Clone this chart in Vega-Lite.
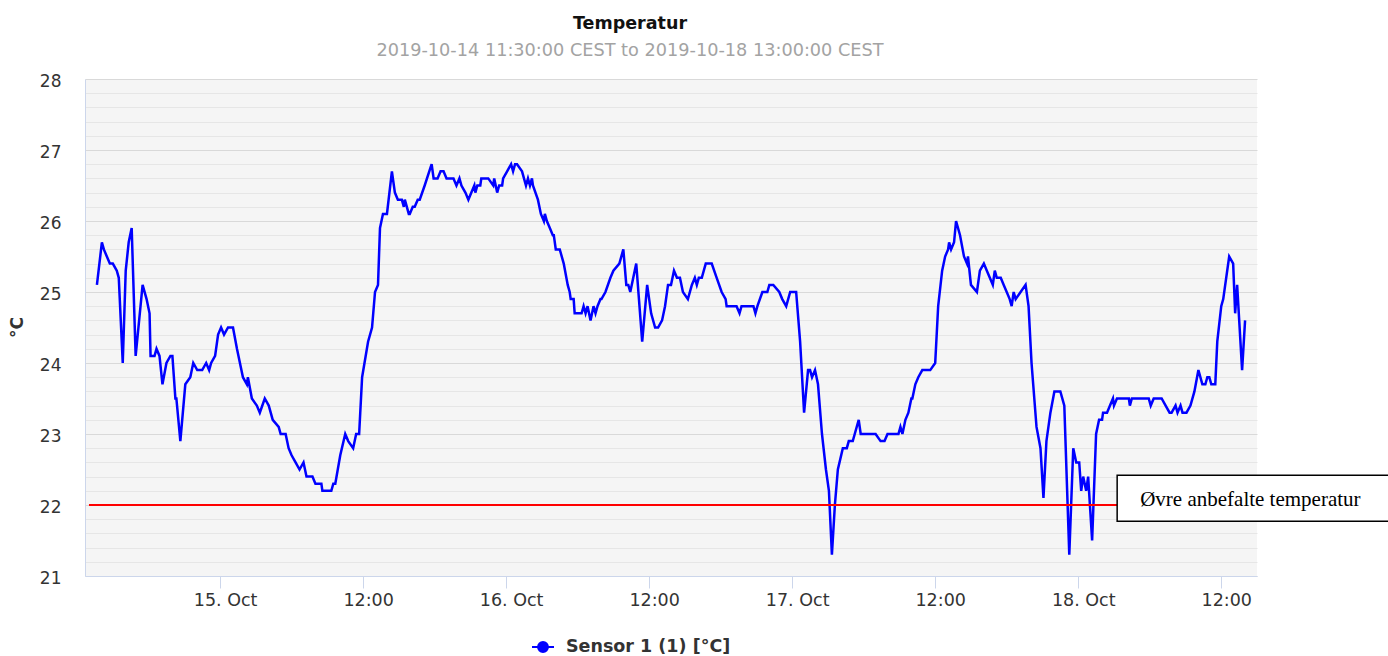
{
  "$schema": "https://vega.github.io/schema/vega-lite/v6.json",
  "autosize": "none",
  "width": 1172,
  "height": 497,
  "padding": {"left": 85, "top": 79, "right": 131, "bottom": 80},
  "background": "white",
  "config": {"view": {"fill": "#f5f5f5", "stroke": null}},
  "title": {
    "text": "Temperatur",
    "subtitle": "2019-10-14 11:30:00 CEST to 2019-10-18 13:00:00 CEST",
    "anchor": "middle",
    "dx": -41,
    "offset": 12,
    "font": "DejaVu Sans",
    "fontSize": 17.5,
    "fontWeight": "bold",
    "color": "#111111",
    "subtitleFont": "DejaVu Sans",
    "subtitleFontSize": 17.7,
    "subtitleColor": "#a3a3a3",
    "subtitlePadding": 10
  },
  "datasets": {
    "temp": [
      {"t":"2019-10-14T13:40","v":25.1},{"t":"2019-10-14T14:05","v":25.7},{"t":"2019-10-14T14:15","v":25.6},{"t":"2019-10-14T14:30","v":25.5},
      {"t":"2019-10-14T14:45","v":25.4},{"t":"2019-10-14T15:00","v":25.4},{"t":"2019-10-14T15:20","v":25.3},{"t":"2019-10-14T15:30","v":25.2},
      {"t":"2019-10-14T15:50","v":24.0},{"t":"2019-10-14T16:05","v":25.3},{"t":"2019-10-14T16:20","v":25.7},{"t":"2019-10-14T16:35","v":25.9},
      {"t":"2019-10-14T16:55","v":24.1},{"t":"2019-10-14T17:30","v":25.1},{"t":"2019-10-14T17:50","v":24.9},{"t":"2019-10-14T18:05","v":24.7},
      {"t":"2019-10-14T18:10","v":24.1},{"t":"2019-10-14T18:30","v":24.1},{"t":"2019-10-14T18:40","v":24.2},{"t":"2019-10-14T18:55","v":24.1},
      {"t":"2019-10-14T19:10","v":23.7},{"t":"2019-10-14T19:30","v":24.0},{"t":"2019-10-14T19:50","v":24.1},{"t":"2019-10-14T20:00","v":24.1},
      {"t":"2019-10-14T20:15","v":23.5},{"t":"2019-10-14T20:20","v":23.5},{"t":"2019-10-14T20:40","v":22.9},{"t":"2019-10-14T21:05","v":23.7},
      {"t":"2019-10-14T21:30","v":23.8},{"t":"2019-10-14T21:45","v":24.0},{"t":"2019-10-14T22:05","v":23.9},{"t":"2019-10-14T22:30","v":23.9},
      {"t":"2019-10-14T22:50","v":24.0},{"t":"2019-10-14T23:05","v":23.9},{"t":"2019-10-14T23:15","v":24.0},{"t":"2019-10-14T23:35","v":24.1},
      {"t":"2019-10-14T23:50","v":24.4},
      {"t":"2019-10-15T00:05","v":24.5},{"t":"2019-10-15T00:20","v":24.4},{"t":"2019-10-15T00:40","v":24.5},{"t":"2019-10-15T01:05","v":24.5},
      {"t":"2019-10-15T01:25","v":24.2},{"t":"2019-10-15T01:55","v":23.8},{"t":"2019-10-15T02:15","v":23.7},{"t":"2019-10-15T02:20","v":23.8},
      {"t":"2019-10-15T02:40","v":23.5},{"t":"2019-10-15T03:05","v":23.4},{"t":"2019-10-15T03:20","v":23.3},{"t":"2019-10-15T03:45","v":23.5},
      {"t":"2019-10-15T04:05","v":23.4},{"t":"2019-10-15T04:25","v":23.2},{"t":"2019-10-15T04:55","v":23.1},{"t":"2019-10-15T05:05","v":23.0},
      {"t":"2019-10-15T05:30","v":23.0},{"t":"2019-10-15T05:45","v":22.8},{"t":"2019-10-15T06:00","v":22.7},{"t":"2019-10-15T06:20","v":22.6},
      {"t":"2019-10-15T06:40","v":22.5},{"t":"2019-10-15T07:00","v":22.6},{"t":"2019-10-15T07:15","v":22.4},{"t":"2019-10-15T07:45","v":22.4},
      {"t":"2019-10-15T08:00","v":22.3},{"t":"2019-10-15T08:30","v":22.3},{"t":"2019-10-15T08:35","v":22.2},{"t":"2019-10-15T09:20","v":22.2},
      {"t":"2019-10-15T09:30","v":22.3},{"t":"2019-10-15T09:40","v":22.3},{"t":"2019-10-15T10:05","v":22.7},{"t":"2019-10-15T10:30","v":23.0},
      {"t":"2019-10-15T10:45","v":22.9},{"t":"2019-10-15T11:10","v":22.8},{"t":"2019-10-15T11:25","v":23.0},{"t":"2019-10-15T11:40","v":23.0},
      {"t":"2019-10-15T11:55","v":23.8},{"t":"2019-10-15T12:25","v":24.3},{"t":"2019-10-15T12:45","v":24.5},{"t":"2019-10-15T13:00","v":25.0},
      {"t":"2019-10-15T13:15","v":25.1},{"t":"2019-10-15T13:25","v":25.9},{"t":"2019-10-15T13:40","v":26.1},{"t":"2019-10-15T14:00","v":26.1},
      {"t":"2019-10-15T14:25","v":26.7},{"t":"2019-10-15T14:40","v":26.4},{"t":"2019-10-15T14:55","v":26.3},{"t":"2019-10-15T15:15","v":26.3},
      {"t":"2019-10-15T15:25","v":26.2},{"t":"2019-10-15T15:30","v":26.3},{"t":"2019-10-15T15:50","v":26.1},{"t":"2019-10-15T15:55","v":26.1},
      {"t":"2019-10-15T16:10","v":26.2},{"t":"2019-10-15T16:20","v":26.2},{"t":"2019-10-15T16:35","v":26.3},{"t":"2019-10-15T16:45","v":26.3},
      {"t":"2019-10-15T17:10","v":26.5},{"t":"2019-10-15T17:45","v":26.8},{"t":"2019-10-15T17:55","v":26.6},{"t":"2019-10-15T18:15","v":26.6},
      {"t":"2019-10-15T18:30","v":26.7},{"t":"2019-10-15T18:45","v":26.7},{"t":"2019-10-15T19:00","v":26.6},{"t":"2019-10-15T19:20","v":26.6},
      {"t":"2019-10-15T19:35","v":26.6},{"t":"2019-10-15T19:50","v":26.5},{"t":"2019-10-15T20:05","v":26.6},{"t":"2019-10-15T20:15","v":26.5},
      {"t":"2019-10-15T20:35","v":26.4},{"t":"2019-10-15T20:50","v":26.3},{"t":"2019-10-15T21:05","v":26.4},{"t":"2019-10-15T21:20","v":26.5},
      {"t":"2019-10-15T21:25","v":26.4},{"t":"2019-10-15T21:35","v":26.5},{"t":"2019-10-15T21:50","v":26.5},{"t":"2019-10-15T21:55","v":26.6},
      {"t":"2019-10-15T22:30","v":26.6},{"t":"2019-10-15T22:55","v":26.5},{"t":"2019-10-15T23:00","v":26.6},{"t":"2019-10-15T23:15","v":26.4},
      {"t":"2019-10-15T23:25","v":26.5},{"t":"2019-10-15T23:40","v":26.5},{"t":"2019-10-15T23:45","v":26.6},
      {"t":"2019-10-16T00:05","v":26.7},{"t":"2019-10-16T00:25","v":26.8},{"t":"2019-10-16T00:35","v":26.7},{"t":"2019-10-16T00:45","v":26.8},
      {"t":"2019-10-16T00:55","v":26.8},{"t":"2019-10-16T01:20","v":26.7},{"t":"2019-10-16T01:40","v":26.5},{"t":"2019-10-16T01:50","v":26.6},
      {"t":"2019-10-16T02:00","v":26.5},{"t":"2019-10-16T02:10","v":26.6},{"t":"2019-10-16T02:15","v":26.5},{"t":"2019-10-16T02:40","v":26.3},
      {"t":"2019-10-16T02:55","v":26.1},{"t":"2019-10-16T03:10","v":26.0},{"t":"2019-10-16T03:15","v":26.1},{"t":"2019-10-16T03:25","v":26.0},
      {"t":"2019-10-16T03:40","v":25.9},{"t":"2019-10-16T03:55","v":25.8},{"t":"2019-10-16T04:00","v":25.8},{"t":"2019-10-16T04:10","v":25.6},
      {"t":"2019-10-16T04:30","v":25.6},{"t":"2019-10-16T04:50","v":25.4},{"t":"2019-10-16T05:10","v":25.1},{"t":"2019-10-16T05:20","v":25.0},
      {"t":"2019-10-16T05:25","v":24.9},{"t":"2019-10-16T05:40","v":24.9},{"t":"2019-10-16T05:45","v":24.7},{"t":"2019-10-16T06:20","v":24.7},
      {"t":"2019-10-16T06:30","v":24.8},{"t":"2019-10-16T06:40","v":24.7},{"t":"2019-10-16T06:50","v":24.8},{"t":"2019-10-16T07:05","v":24.6},
      {"t":"2019-10-16T07:20","v":24.8},{"t":"2019-10-16T07:30","v":24.7},{"t":"2019-10-16T07:40","v":24.8},{"t":"2019-10-16T07:55","v":24.9},
      {"t":"2019-10-16T08:00","v":24.9},{"t":"2019-10-16T08:20","v":25.0},{"t":"2019-10-16T08:45","v":25.2},{"t":"2019-10-16T09:00","v":25.3},
      {"t":"2019-10-16T09:30","v":25.4},{"t":"2019-10-16T09:50","v":25.6},{"t":"2019-10-16T10:05","v":25.1},{"t":"2019-10-16T10:15","v":25.1},
      {"t":"2019-10-16T10:25","v":25.0},{"t":"2019-10-16T10:40","v":25.2},{"t":"2019-10-16T10:55","v":25.4},{"t":"2019-10-16T11:25","v":24.3},
      {"t":"2019-10-16T11:50","v":25.1},{"t":"2019-10-16T12:10","v":24.7},{"t":"2019-10-16T12:30","v":24.5},{"t":"2019-10-16T12:45","v":24.5},
      {"t":"2019-10-16T13:05","v":24.6},{"t":"2019-10-16T13:20","v":24.8},{"t":"2019-10-16T13:35","v":25.1},{"t":"2019-10-16T13:50","v":25.1},
      {"t":"2019-10-16T14:05","v":25.3},{"t":"2019-10-16T14:20","v":25.2},{"t":"2019-10-16T14:35","v":25.2},{"t":"2019-10-16T14:50","v":25.0},
      {"t":"2019-10-16T15:15","v":24.9},{"t":"2019-10-16T15:35","v":25.1},{"t":"2019-10-16T15:50","v":25.2},{"t":"2019-10-16T16:00","v":25.1},
      {"t":"2019-10-16T16:10","v":25.2},{"t":"2019-10-16T16:25","v":25.2},{"t":"2019-10-16T16:45","v":25.4},{"t":"2019-10-16T17:15","v":25.4},
      {"t":"2019-10-16T17:40","v":25.2},{"t":"2019-10-16T18:05","v":25.0},{"t":"2019-10-16T18:25","v":24.9},{"t":"2019-10-16T18:30","v":24.8},
      {"t":"2019-10-16T19:20","v":24.8},{"t":"2019-10-16T19:35","v":24.7},{"t":"2019-10-16T19:45","v":24.8},{"t":"2019-10-16T20:45","v":24.8},
      {"t":"2019-10-16T20:55","v":24.7},{"t":"2019-10-16T21:05","v":24.8},{"t":"2019-10-16T21:30","v":25.0},{"t":"2019-10-16T21:55","v":25.0},
      {"t":"2019-10-16T22:05","v":25.1},{"t":"2019-10-16T22:25","v":25.1},{"t":"2019-10-16T22:55","v":25.0},{"t":"2019-10-16T23:10","v":24.9},
      {"t":"2019-10-16T23:30","v":24.8},{"t":"2019-10-16T23:50","v":25.0},
      {"t":"2019-10-17T00:20","v":25.0},{"t":"2019-10-17T00:40","v":24.3},{"t":"2019-10-17T01:00","v":23.3},{"t":"2019-10-17T01:20","v":23.9},
      {"t":"2019-10-17T01:30","v":23.9},{"t":"2019-10-17T01:40","v":23.8},{"t":"2019-10-17T01:55","v":23.9},{"t":"2019-10-17T02:10","v":23.7},
      {"t":"2019-10-17T02:30","v":23.0},{"t":"2019-10-17T02:50","v":22.5},{"t":"2019-10-17T03:05","v":22.2},{"t":"2019-10-17T03:20","v":21.3},
      {"t":"2019-10-17T03:35","v":22.0},{"t":"2019-10-17T03:50","v":22.5},{"t":"2019-10-17T04:15","v":22.8},{"t":"2019-10-17T04:35","v":22.8},
      {"t":"2019-10-17T04:45","v":22.9},{"t":"2019-10-17T05:05","v":22.9},{"t":"2019-10-17T05:15","v":23.0},{"t":"2019-10-17T05:35","v":23.2},
      {"t":"2019-10-17T05:45","v":23.0},{"t":"2019-10-17T07:00","v":23.0},{"t":"2019-10-17T07:25","v":22.9},{"t":"2019-10-17T07:45","v":22.9},
      {"t":"2019-10-17T08:00","v":23.0},{"t":"2019-10-17T08:55","v":23.0},{"t":"2019-10-17T09:05","v":23.1},{"t":"2019-10-17T09:15","v":23.0},
      {"t":"2019-10-17T09:30","v":23.2},{"t":"2019-10-17T09:45","v":23.3},{"t":"2019-10-17T10:00","v":23.5},{"t":"2019-10-17T10:05","v":23.5},
      {"t":"2019-10-17T10:20","v":23.7},{"t":"2019-10-17T10:35","v":23.8},{"t":"2019-10-17T10:55","v":23.9},{"t":"2019-10-17T11:35","v":23.9},
      {"t":"2019-10-17T12:00","v":24.0},{"t":"2019-10-17T12:15","v":24.8},{"t":"2019-10-17T12:35","v":25.3},{"t":"2019-10-17T12:50","v":25.5},
      {"t":"2019-10-17T13:05","v":25.6},{"t":"2019-10-17T13:10","v":25.7},{"t":"2019-10-17T13:20","v":25.6},{"t":"2019-10-17T13:35","v":25.7},
      {"t":"2019-10-17T13:45","v":26.0},{"t":"2019-10-17T14:05","v":25.8},{"t":"2019-10-17T14:25","v":25.5},{"t":"2019-10-17T14:40","v":25.4},
      {"t":"2019-10-17T14:45","v":25.5},{"t":"2019-10-17T15:00","v":25.1},{"t":"2019-10-17T15:30","v":25.0},{"t":"2019-10-17T15:45","v":25.3},
      {"t":"2019-10-17T16:05","v":25.4},{"t":"2019-10-17T16:20","v":25.3},{"t":"2019-10-17T16:35","v":25.2},{"t":"2019-10-17T16:50","v":25.1},
      {"t":"2019-10-17T17:00","v":25.3},{"t":"2019-10-17T17:10","v":25.2},{"t":"2019-10-17T17:30","v":25.2},{"t":"2019-10-17T17:45","v":25.1},
      {"t":"2019-10-17T18:00","v":25.0},{"t":"2019-10-17T18:15","v":24.9},{"t":"2019-10-17T18:25","v":24.8},{"t":"2019-10-17T18:35","v":25.0},
      {"t":"2019-10-17T18:45","v":24.9},{"t":"2019-10-17T19:10","v":25.0},{"t":"2019-10-17T19:35","v":25.1},{"t":"2019-10-17T19:50","v":24.8},
      {"t":"2019-10-17T20:05","v":24.0},{"t":"2019-10-17T20:30","v":23.1},{"t":"2019-10-17T20:50","v":22.8},{"t":"2019-10-17T21:05","v":22.1},
      {"t":"2019-10-17T21:20","v":22.9},{"t":"2019-10-17T21:40","v":23.3},{"t":"2019-10-17T22:00","v":23.6},{"t":"2019-10-17T22:30","v":23.6},
      {"t":"2019-10-17T22:50","v":23.4},{"t":"2019-10-17T23:15","v":21.3},{"t":"2019-10-17T23:35","v":22.8},{"t":"2019-10-17T23:50","v":22.6},
      {"t":"2019-10-18T00:05","v":22.6},{"t":"2019-10-18T00:15","v":22.2},{"t":"2019-10-18T00:25","v":22.4},{"t":"2019-10-18T00:40","v":22.2},
      {"t":"2019-10-18T00:50","v":22.4},{"t":"2019-10-18T01:10","v":21.5},{"t":"2019-10-18T01:30","v":23.0},{"t":"2019-10-18T01:45","v":23.2},
      {"t":"2019-10-18T02:00","v":23.2},{"t":"2019-10-18T02:05","v":23.3},{"t":"2019-10-18T02:25","v":23.3},{"t":"2019-10-18T02:40","v":23.4},
      {"t":"2019-10-18T02:55","v":23.5},{"t":"2019-10-18T03:00","v":23.4},{"t":"2019-10-18T03:15","v":23.5},{"t":"2019-10-18T04:15","v":23.5},
      {"t":"2019-10-18T04:20","v":23.4},{"t":"2019-10-18T04:30","v":23.5},{"t":"2019-10-18T05:55","v":23.5},{"t":"2019-10-18T06:05","v":23.4},
      {"t":"2019-10-18T06:20","v":23.5},{"t":"2019-10-18T07:00","v":23.5},{"t":"2019-10-18T07:20","v":23.4},{"t":"2019-10-18T07:40","v":23.3},
      {"t":"2019-10-18T07:50","v":23.3},{"t":"2019-10-18T08:10","v":23.4},{"t":"2019-10-18T08:20","v":23.3},{"t":"2019-10-18T08:35","v":23.4},
      {"t":"2019-10-18T08:45","v":23.3},{"t":"2019-10-18T09:05","v":23.3},{"t":"2019-10-18T09:25","v":23.4},{"t":"2019-10-18T09:45","v":23.6},
      {"t":"2019-10-18T10:05","v":23.9},{"t":"2019-10-18T10:25","v":23.7},{"t":"2019-10-18T10:40","v":23.7},{"t":"2019-10-18T10:50","v":23.8},
      {"t":"2019-10-18T11:00","v":23.8},{"t":"2019-10-18T11:10","v":23.7},{"t":"2019-10-18T11:30","v":23.7},{"t":"2019-10-18T11:40","v":24.3},
      {"t":"2019-10-18T12:00","v":24.8},{"t":"2019-10-18T12:10","v":24.9},{"t":"2019-10-18T12:40","v":25.5},{"t":"2019-10-18T13:00","v":25.4},
      {"t":"2019-10-18T13:10","v":24.7},{"t":"2019-10-18T13:20","v":25.1},{"t":"2019-10-18T13:45","v":23.9},{"t":"2019-10-18T14:00","v":24.6}
    ],
    "limit": [{"t0":"2019-10-14T13:00","t1":"2019-10-18T03:16","v":22}],
    "box": [{"t0":"2019-10-18T03:16","t1":"2019-10-19T02:10","lo":21.77,"hi":22.42}],
    "label": [{"t":"2019-10-18T05:12","v":22.07,"text":"Øvre anbefalte temperatur"}]
  },
  "resolve": {"axis": {"y": "independent"}},
  "layer": [
    {
      "data": {"name": "temp"},
      "mark": {"type": "line", "color": "#0000ff", "strokeWidth": 2.5, "interpolate": "linear"},
      "encoding": {
        "x": {
          "field": "t", "type": "temporal", "title": null,
          "scale": {"domain": [{"year":2019,"month":10,"date":14,"hours":12,"minutes":40},{"year":2019,"month":10,"date":18,"hours":15,"minutes":0}]},
          "axis": {
            "title": null,
            "values": [
              {"year":2019,"month":10,"date":15,"hours":0},{"year":2019,"month":10,"date":15,"hours":12},
              {"year":2019,"month":10,"date":16,"hours":0},{"year":2019,"month":10,"date":16,"hours":12},
              {"year":2019,"month":10,"date":17,"hours":0},{"year":2019,"month":10,"date":17,"hours":12},
              {"year":2019,"month":10,"date":18,"hours":0},{"year":2019,"month":10,"date":18,"hours":12}
            ],
            "format": "%d. %b|%H:%M",
            "labelExpr": "split(datum.label, '|')[1] == '00:00' ? split(datum.label, '|')[0] : split(datum.label, '|')[1]",
            "grid": false,
            "domainColor": "#ccd6eb",
            "tickColor": "#ccd6eb",
            "tickSize": 12,
            "labelFont": "DejaVu Sans",
            "labelFontSize": 17.5,
            "labelColor": "#333333",
            "labelPadding": 3,
            "labelOffset": 5,
            "labelFlush": false
          }
        },
        "y": {
          "field": "v", "type": "quantitative",
          "scale": {"domain": [21, 28], "nice": false, "zero": false},
          "axis": {
            "orient": "left",
            "title": null,
            "labels": false,
            "ticks": false,
            "domain": false,
            "grid": true,
            "gridColor": "#e6e6e6",
            "values": [21.2,21.4,21.6,21.8,22.2,22.4,22.6,22.8,23.2,23.4,23.6,23.8,24.2,24.4,24.6,24.8,25.2,25.4,25.6,25.8,26.2,26.4,26.6,26.8,27.2,27.4,27.6,27.8]
          }
        },
        "color": {
          "datum": "Sensor 1 (1) [°C]",
          "scale": {"range": ["#0000ff"]},
          "legend": {
            "title": null,
            "orient": "none",
            "legendX": 446,
            "legendY": 556,
            "padding": 0,
            "symbolType": "M-1,0L1,0M-0.45,0A0.45,0.45,0,1,1,0.45,0A0.45,0.45,0,1,1,-0.45,0Z",
            "symbolSize": 484,
            "symbolFillColor": "#0000ff",
            "symbolStrokeColor": "#0000ff",
            "symbolStrokeWidth": 2,
            "labelFont": "DejaVu Sans",
            "labelFontSize": 17.5,
            "labelFontWeight": "bold",
            "labelColor": "#333333",
            "labelOffset": 11,
            "labelLimit": 400
          }
        }
      }
    },
    {
      "data": {"name": "limit"},
      "mark": {"type": "rule", "color": "#ff0000", "strokeWidth": 2},
      "encoding": {
        "x": {"field": "t0", "type": "temporal", "title": null},
        "x2": {"field": "t1"},
        "y": {
          "field": "v", "type": "quantitative",
          "axis": {
            "orient": "left",
            "title": "°C",
            "titleFont": "DejaVu Sans",
            "titleFontSize": 17,
            "titleFontWeight": "bold",
            "titleColor": "#333333",
            "titleX": -68,
            "titleY": 248,
            "titleAngle": 270,
            "titleAlign": "center",
            "titleBaseline": "middle",
            "values": [21,22,23,24,25,26,27,28],
            "grid": true,
            "gridColor": "#d9d9d9",
            "ticks": false,
            "tickSize": 0,
            "domain": true,
            "domainColor": "#ccd6eb",
            "labelFont": "DejaVu Sans",
            "labelFontSize": 17,
            "labelColor": "#333333",
            "labelPadding": 24,
            "labelOffset": 2,
            "labelFlush": false
          }
        }
      }
    },
    {
      "data": {"name": "box"},
      "mark": {"type": "rect", "fill": "white", "stroke": "black", "strokeWidth": 1.5},
      "encoding": {
        "x": {"field": "t0", "type": "temporal", "title": null},
        "x2": {"field": "t1"},
        "y": {"field": "lo", "type": "quantitative", "axis": null},
        "y2": {"field": "hi"}
      }
    },
    {
      "data": {"name": "label"},
      "mark": {"type": "text", "align": "left", "baseline": "middle", "font": "Liberation Serif", "fontSize": 21, "color": "black"},
      "encoding": {
        "x": {"field": "t", "type": "temporal", "title": null},
        "y": {"field": "v", "type": "quantitative", "axis": null},
        "text": {"field": "text"}
      }
    }
  ]
}
